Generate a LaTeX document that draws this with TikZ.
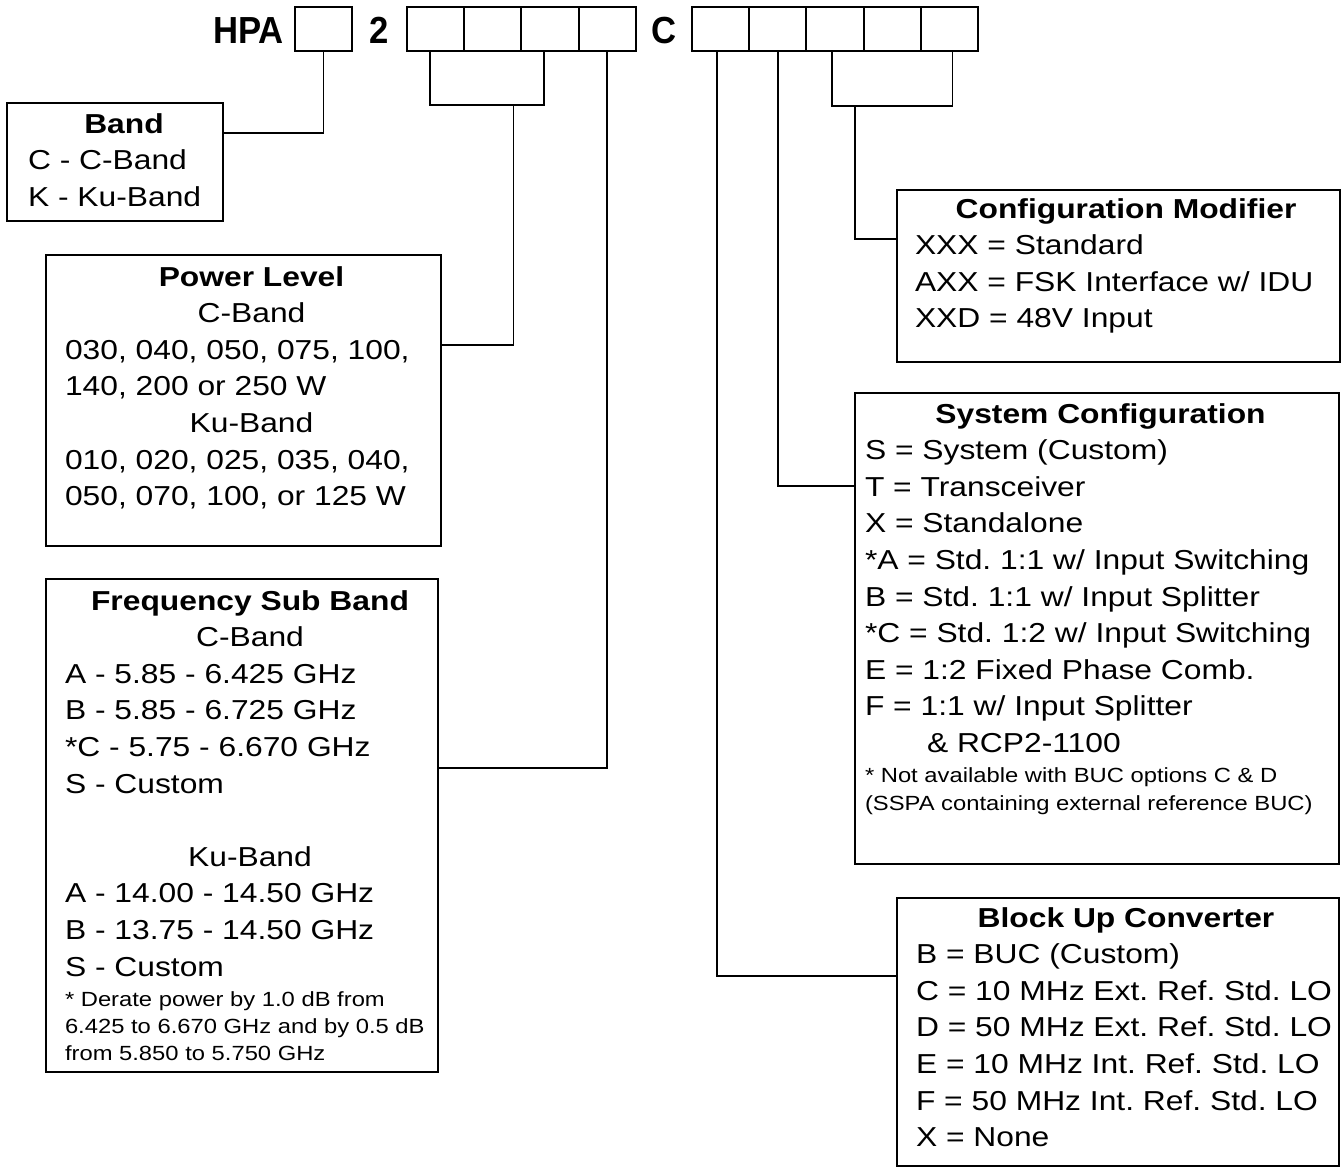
\documentclass[tikz,border=0pt]{standalone}
\usepackage{fontspec}
\setmainfont{Liberation Sans}[FakeStretch=1.16]
\newfontfamily\codefont{Liberation Sans}[FakeStretch=0.92]
\usetikzlibrary{calc,positioning}

\newcommand{\boxfont}{\fontsize{27.4pt}{36.6pt}\selectfont\frenchspacing}
\newcommand{\notefont}{\fontsize{20.5pt}{27.3pt}\selectfont}
\newcommand{\ctr}[2]{\makebox[#1][c]{#2}}

\begin{document}
\begin{tikzpicture}[x=1pt, y=-1pt, inner sep=0pt, outer sep=0pt, line width=2pt,
    cell/.style={draw, minimum width=57.2pt, minimum height=44pt},
    frame/.style={draw, anchor=north west},
    wire/.style={line width=1.8pt},
    code/.style={anchor=base, font=\codefont\bfseries\fontsize{37.7pt}{40pt}\selectfont}]
    \useasboundingbox (0,0) rectangle (1343,1168);

    % model code cells
    \node[cell, minimum width=57pt] (c1) at (323.5, 29) {};
    \node[cell] (a1) at (435.6, 29) {};
    \node[cell, right=0pt of a1] (a2) {};
    \node[cell, right=0pt of a2] (a3) {};
    \node[cell, right=0pt of a3] (a4) {};
    \node[cell] (b1) at (720.6, 29) {};
    \node[cell, right=0pt of b1] (b2) {};
    \node[cell, right=0pt of b2] (b3) {};
    \node[cell, right=0pt of b3] (b4) {};
    \node[cell, right=0pt of b4] (b5) {};

    \node[code, anchor=base east] (hpa) at ($(c1.west) + (-11, 14)$) {HPA};
    \node[code] (two) at ($(c1.east)!0.5!(a1.west) + (0, 14)$) {2};
    \node[code] (band_c) at ($(a4.east)!0.5!(b1.west) + (0, 14)$) {C};

    % band
    \node[frame, minimum width=216pt, minimum height=118pt] (band) at (7, 103) {};
    \node[anchor=base west] (band_txt) at ($(band.north west) + (21, 30)$)
    {\parbox[t]{500pt}{\boxfont
    \ctr{192pt}{\textbf{Band}}\\
    C - C-Band\\
    K - Ku-Band}};

    % power level
    \node[frame, minimum width=395pt, minimum height=291pt] (power) at (46, 255) {};
    \node[anchor=base west] (power_txt) at ($(power.north west) + (19, 31)$)
    {\parbox[t]{500pt}{\boxfont
    \ctr{373pt}{\textbf{Power Level}}\\
    \ctr{373pt}{C-Band}\\
    030, 040, 050, 075, 100,\\
    140, 200 or 250 W\\
    \ctr{373pt}{Ku-Band}\\
    010, 020, 025, 035, 040,\\
    050, 070, 100, or 125 W}};

    % frequency sub band
    \node[frame, minimum width=392pt, minimum height=493pt] (freq) at (46, 579) {};
    \node[anchor=base west] (freq_txt) at ($(freq.north west) + (19, 31)$)
    {\parbox[t]{500pt}{\boxfont
    \ctr{370pt}{\textbf{Frequency Sub Band}}\\
    \ctr{370pt}{C-Band}\\
    A - 5.85 - 6.425 GHz\\
    B - 5.85 - 6.725 GHz\\
    {}*C - 5.75 - 6.670 GHz\\
    S - Custom\\[36.6pt]
    \ctr{370pt}{Ku-Band}\\
    A - 14.00 - 14.50 GHz\\
    B - 13.75 - 14.50 GHz\\
    S - Custom\par\vspace{3pt}
    {\notefont * Derate power by 1.0 dB from\\
    6.425 to 6.670 GHz and by 0.5 dB\\
    from 5.850 to 5.750 GHz\par}}};

    % configuration modifier
    \node[frame, minimum width=443pt, minimum height=172pt] (modif) at (897, 190) {};
    \node[anchor=base west] (modif_txt) at ($(modif.north west) + (18, 28)$)
    {\parbox[t]{500pt}{\boxfont
    \ctr{422pt}{\textbf{Configuration Modifier}}\\
    XXX = Standard\\
    AXX = FSK Interface w/ IDU\\
    XXD = 48V Input}};

    % system configuration
    \node[frame, minimum width=484pt, minimum height=471pt] (sys) at (855, 393) {};
    \node[anchor=base west] (sys_txt) at ($(sys.north west) + (10, 30)$)
    {\parbox[t]{500pt}{\boxfont
    \ctr{471pt}{\textbf{System Configuration}}\\
    S = System (Custom)\\
    T = Transceiver\\
    X = Standalone\\
    {}*A = Std. 1:1 w/ Input Switching\\
    B = Std. 1:1 w/ Input Splitter\\
    {}*C = Std. 1:2 w/ Input Switching\\
    E = 1:2 Fixed Phase Comb.\\
    F = 1:1 w/ Input Splitter\\
    \hspace*{62pt}\& RCP2-1100\par\vspace{3pt}
    {\notefont * Not available with BUC options C \& D\\
    (SSPA containing external reference BUC)\par}}};

    % block up converter
    \node[frame, minimum width=442pt, minimum height=268pt] (buc) at (897, 898) {};
    \node[anchor=base west] (buc_txt) at ($(buc.north west) + (19, 29)$)
    {\parbox[t]{500pt}{\boxfont
    \ctr{420pt}{\textbf{Block Up Converter}}\\
    B = BUC (Custom)\\
    C = 10 MHz Ext. Ref. Std. LO\\
    D = 50 MHz Ext. Ref. Std. LO\\
    E = 10 MHz Int. Ref. Std. LO\\
    F = 50 MHz Int. Ref. Std. LO\\
    X = None}};

    % connectors
    \coordinate (band_in) at ($(band.north east) + (0, 30)$);
    \coordinate (power_in) at ($(power.north east) + (0, 90)$);
    \coordinate (freq_in) at ($(freq.north east) + (0, 189)$);
    \coordinate (modif_in) at ($(modif.north west) + (0, 49)$);
    \coordinate (sys_in) at ($(sys.north west) + (0, 93)$);
    \coordinate (buc_in) at ($(buc.north west) + (0, 78)$);
    \coordinate (power_l) at ($(a1.south) + (-6, 0)$);
    \coordinate (power_r) at ($(a3.south) + (-6, 0)$);
    \coordinate (power_mid) at ($(a3.south west) + (-8, 54)$);
    \coordinate (modif_l) at ($(b3.south) + (-3, 0)$);
    \coordinate (modif_r) at ($(b5.south) + (3, 0)$);
    \coordinate (modif_mid) at ($(b3.south) + (20, 55)$);

    \draw[wire] (c1.south) |- (band_in);
    \draw[wire] (power_l) -- ++(0, 54) -| (power_r);
    \draw[wire] (power_mid) |- (power_in);
    \draw[wire] (a4.south) |- (freq_in);
    \draw[wire] ($(b1.south) + (-4, 0)$) |- (buc_in);
    \draw[wire] (b2.south) |- (sys_in);
    \draw[wire] (modif_l) -- ++(0, 55) -| (modif_r);
    \draw[wire] (modif_mid) |- (modif_in);
\end{tikzpicture}
\end{document}
